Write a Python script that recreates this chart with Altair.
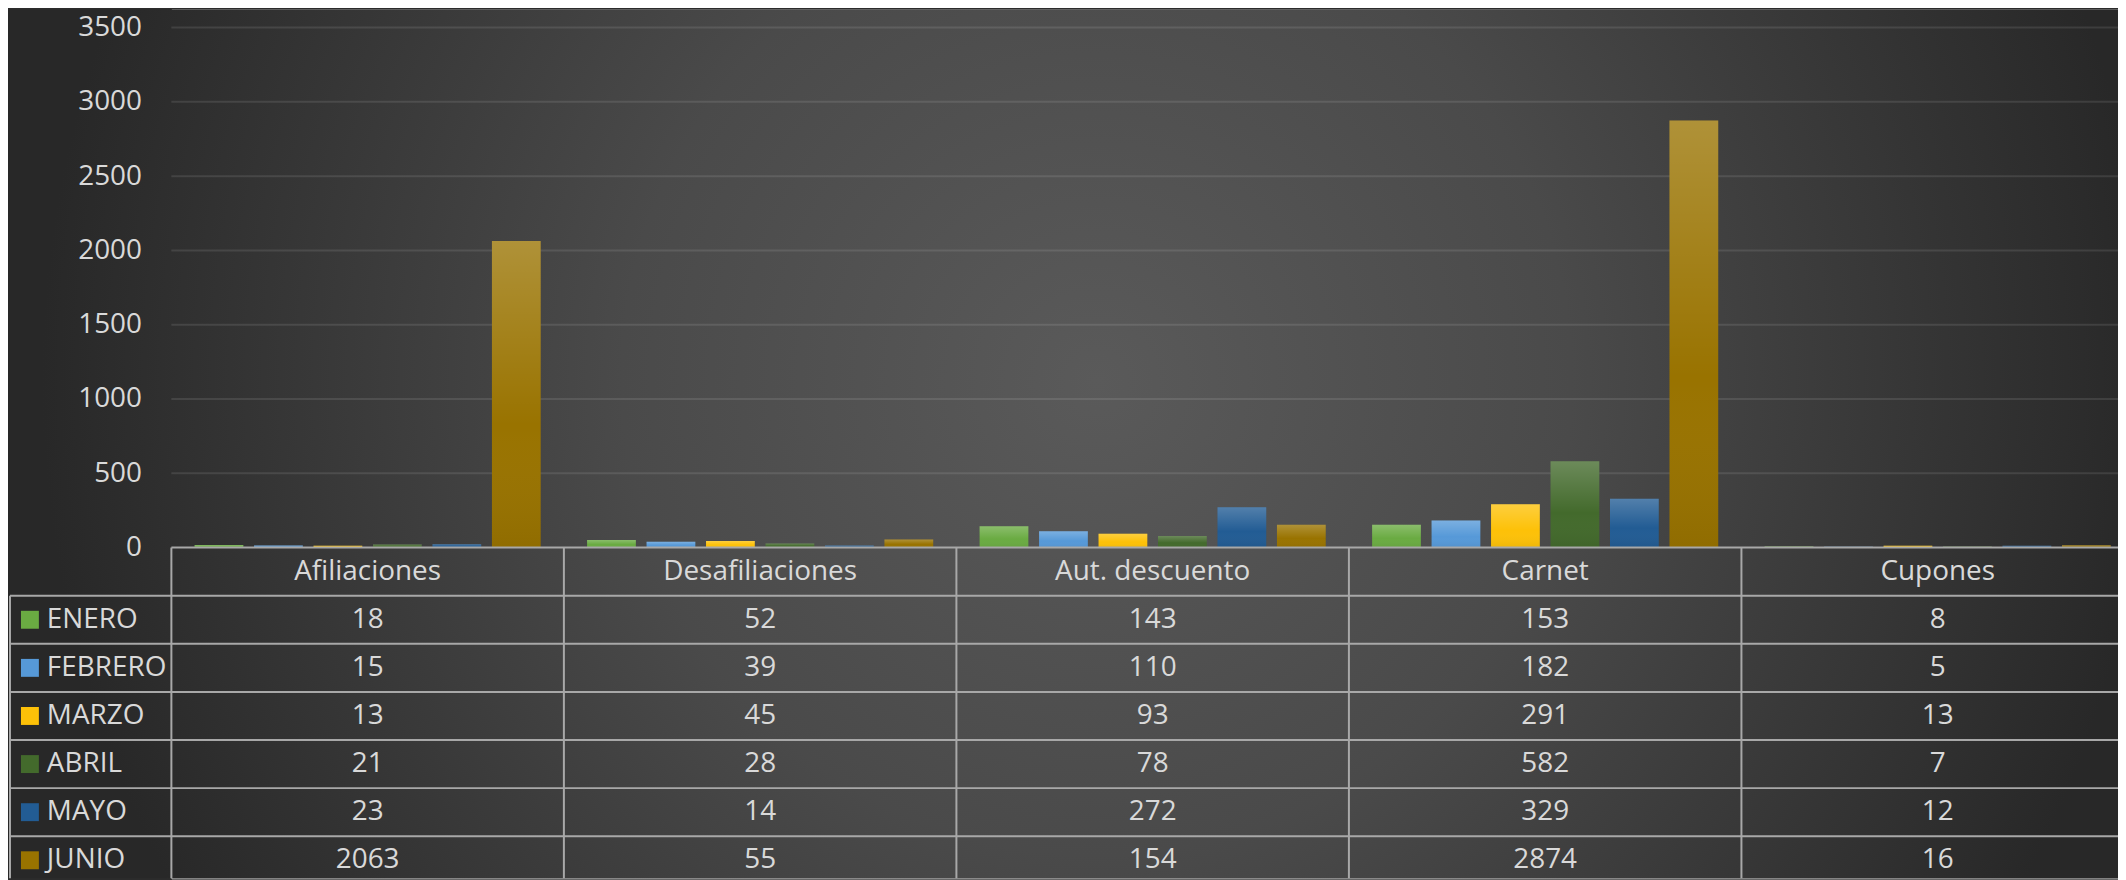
import altair as alt
import pandas as pd

# ---------------- data ----------------
CATEGORIES = ["Afiliaciones", "Desafiliaciones", "Aut. descuento", "Carnet", "Cupones"]
MONTHS = ["ENERO", "FEBRERO", "MARZO", "ABRIL", "MAYO", "JUNIO"]
ENERO = [18, 52, 143, 153, 8]
FEBRERO = [15, 39, 110, 182, 5]
MARZO = [13, 45, 93, 291, 13]
ABRIL = [21, 28, 78, 582, 7]
MAYO = [23, 14, 272, 329, 12]
JUNIO = [2063, 55, 154, 2874, 16]
Y_TICKS = [0, 500, 1000, 1500, 2000, 2500, 3000, 3500]

SERIES = {"ENERO": ENERO, "FEBRERO": FEBRERO, "MARZO": MARZO,
          "ABRIL": ABRIL, "MAYO": MAYO, "JUNIO": JUNIO}
COLORS = ["#6aab42", "#5699d8", "#fdc108", "#436a2c", "#225c94", "#997300"]

HDR = "__header__"

rows = []
for m in MONTHS:
    for c, v in zip(CATEGORIES, SERIES[m]):
        rows.append({"cat": c, "month": m, "value": v, "row": m})
df = pd.DataFrame(rows)
hdr_df = pd.DataFrame({"cat": CATEGORIES, "row": [HDR] * len(CATEGORIES)})
months_df = pd.DataFrame({"month": MONTHS, "row": MONTHS})
first_row_df = pd.DataFrame({"row": [MONTHS[0]]})
top_df = pd.DataFrame({"row": [HDR]})
one_df = pd.DataFrame({"k": [0]})
grid_df = pd.DataFrame({"value": Y_TICKS[1:]})

# ---------------- layout ----------------
PAD_LEFT = 164
VIEW_W = 2118 - PAD_LEFT
VIEW_H = 872
FONT = "Open Sans"
FS = 28
TXT = "#d9d9d9"
LINE = "#a8a8a8"

X_SCALE = alt.Scale(domain=CATEGORIES, range=[0, 1970], paddingInner=0, paddingOuter=0)
XO_SCALE = alt.Scale(domain=MONTHS, paddingInner=0.18, paddingOuter=0.39)
Y_SCALE = alt.Scale(domain=[0, 3500], range=[540, 18], nice=False)
T_SCALE = alt.Scale(domain=[HDR] + MONTHS, range=[540, 878], paddingInner=0, paddingOuter=0)
C_SCALE = alt.Scale(domain=MONTHS, range=COLORS)

Y_AXIS = alt.Axis(values=Y_TICKS, format="d", title=None, ticks=False, domain=False,
                  labelPadding=30, labelFont=FONT, labelFontSize=FS,
                  labelColor=TXT, grid=False, zindex=2)

x_cat = alt.X("cat:N", scale=X_SCALE, axis=None)
xo = alt.XOffset("month:N", scale=XO_SCALE)
y_val = alt.Y("value:Q", scale=Y_SCALE, axis=Y_AXIS)
y_row = alt.Y("row:N", scale=T_SCALE, axis=None, bandPosition=0.5)
y_row0 = alt.Y("row:N", scale=T_SCALE, axis=None, bandPosition=0)

# background (radial gradient over the whole chart)
background = alt.Chart(one_df).mark_rect(
    fill=alt.Gradient(
        gradient="radial", x1=0.516, y1=0.47, r1=0, x2=0.516, y2=0.47, r2=0.5,
        stops=[alt.GradientStop(color="#5a5a5a", offset=0),
               alt.GradientStop(color="#4a4a4a", offset=0.45),
               alt.GradientStop(color="#282828", offset=1)],
    )
).encode(x=alt.value(-PAD_LEFT), x2=alt.value(VIEW_W),
         y=alt.value(0), y2=alt.value(VIEW_H))

gridlines = alt.Chart(grid_df).mark_rule(color="#ffffff", opacity=0.1, strokeWidth=2).encode(
    y=y_val, x=alt.value(0), x2=alt.value(VIEW_W))

bars = alt.Chart(df).mark_bar().encode(
    x=x_cat, xOffset=xo, y=y_val,
    color=alt.Color("month:N", scale=C_SCALE, legend=None),
)
overlay = alt.Chart(df).mark_bar(
    fill=alt.Gradient(
        gradient="linear", x1=0, x2=0, y1=0, y2=1,
        stops=[alt.GradientStop(color="rgba(255,255,255,0.22)", offset=0),
               alt.GradientStop(color="rgba(255,255,255,0)", offset=0.6),
               alt.GradientStop(color="rgba(0,0,0,0.06)", offset=1)],
    )
).encode(x=x_cat, xOffset=xo, y=y_val)

bar_group = alt.layer(gridlines, bars, overlay)

hlines = alt.Chart(months_df).mark_rule(color=LINE, strokeWidth=2).encode(
    y=y_row0, x=alt.value(-162), x2=alt.value(VIEW_W))
topline = alt.Chart(top_df).mark_rule(color=LINE, strokeWidth=2).encode(
    y=y_row0, x=alt.value(0), x2=alt.value(VIEW_W))
vlines = alt.Chart(hdr_df).mark_rule(color=LINE, strokeWidth=2).encode(
    x=alt.X("cat:N", scale=X_SCALE, axis=None, bandPosition=0),
    y=y_row0, y2=alt.value(VIEW_H))
leftline = alt.Chart(first_row_df).mark_rule(color=LINE, strokeWidth=2).encode(
    x=alt.value(-162), y=y_row0, y2=alt.value(VIEW_H))

hdr_text = alt.Chart(hdr_df).mark_text(
    font=FONT, fontSize=FS, color=TXT, align="center", baseline="middle"
).encode(x=x_cat, y=y_row, text="cat:N")
val_text = alt.Chart(df).mark_text(
    font=FONT, fontSize=FS, color=TXT, align="center", baseline="middle"
).encode(x=x_cat, y=y_row, text="value:Q")
month_text = alt.Chart(months_df).mark_text(
    font=FONT, fontSize=FS, color=TXT, align="left", baseline="middle"
).encode(x=alt.value(-125), y=y_row, text="month:N")
squares = alt.Chart(months_df).mark_square(size=324, opacity=1).encode(
    x=alt.value(-142), y=y_row,
    color=alt.Color("month:N", scale=C_SCALE, legend=None))

table_group = alt.layer(hlines, topline, vlines, leftline,
                        hdr_text, val_text, month_text, squares)

chart = alt.layer(background, bar_group, table_group).resolve_scale(y="independent").properties(
    width=VIEW_W, height=VIEW_H,
    autosize=alt.AutoSizeParams(type="none"),
    padding={"left": PAD_LEFT, "top": 0, "right": 0, "bottom": 0},
    background="#2c2c2c",
).configure_view(stroke=None).configure(font=FONT)

chart.save("out.html", embed_options={"renderer": "svg", "actions": False})
